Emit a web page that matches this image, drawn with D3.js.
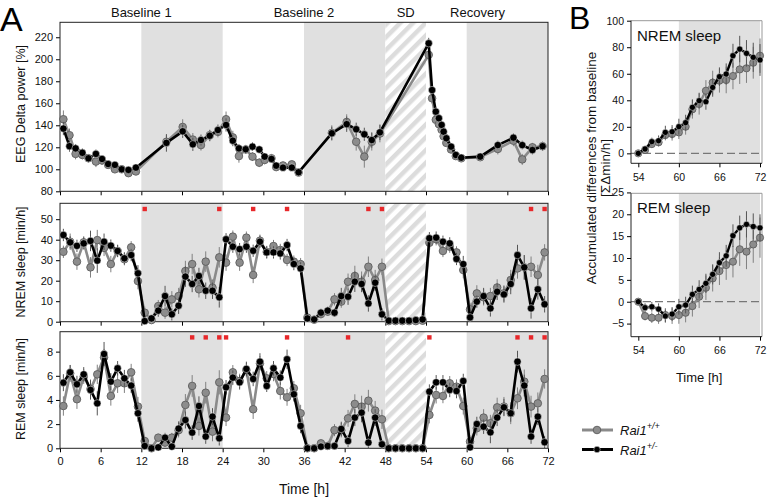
<!DOCTYPE html>
<html><head><meta charset="utf-8">
<script src="https://cdn.jsdelivr.net/npm/d3@7"></script>
<style>body{margin:0;background:#fff}svg{display:block;font-family:"Liberation Sans",Arial,sans-serif}</style>
</head><body>
<script>
// ---------- DATA ----------
const hours = d3.range(72).map(i => i + 0.5);
const xTicksA = d3.range(0, 73, 6);
const periods = ["Baseline 1", "Baseline 2", "SD", "Recovery"];
const periodCenters = [12, 36, 51, 61.6];
const darkPhases = [[12, 24], [36, 48], [60, 72]];
const sdPhase = [48, 54];

const deltaTime = [0.5,1.4,2.3,3.3,4.2,5.3,6.2,7.1,8.1,9.1,10.1,11.2, 15.7,18.1,19.6,20.8,22.1,23.3,
  24.5,25.5,26.4,27.4,28.4,29.4,30.2,31.2,31.9,32.9,34.2,35.2, 40.1,42.3,43.7,44.9,46.0,47.2,
  54.4,54.9,55.45,55.9,56.3,56.6,57.0,57.7,58.4,59.2, 62.0,64.6,66.9,68.2,69.7,71.2];
const deltaWt = [145.5,131,114,113,110,107,108,104,100,100,96.5,98, 125,138.5,127,122,131,134,
  145.5,129,112,118,111.5,106,108.5,110,102,103.5,104.5,97, 133,143,125,111.5,125,132.5,
  204,164.5,145,141,136,130,124,118,112,110, 111,118.5,126,109,120,121];
const deltaHet = [137,121,119,115,110,114,109.4,104.8,104,100,99.4,101.5, 124,134.5,122.7,126.6,130.5,135.7,
  140.3,126,119,118.2,120.6,118,111.5,109.4,103.3,101.5,101.5,97.3, 132.7,141,136.4,131.8,126.6,133.6,
  214.5,172,152.4,146.4,140.3,134.2,128.2,120.6,113,110.5, 111.5,122,128.7,122,117.5,121];
const deltaErrWt = [8,6,5,4,4,5,4,3,3,3,3,3, 6,7,6,5,5,5, 7,6,6,4,4,4,4,4,3,3,3,3, 7,7,8,10,8,8, 6,5,4,4,4,3,3,3,3,3, 3,5,5,5,4,4];
const deltaErrHet = [6,5,4,4,3,4,3,3,3,3,3,3, 8,6,6,5,5,5, 6,5,4,4,4,3,3,3,3,3,3,3, 6,7,6,6,7,7, 5,5,4,4,4,3,3,3,3,3, 3,4,4,4,4,4];

const nremWt = [34.1,39,29.3,38.7,26.5,39.8,36,28.1,34.5,30.5,36.3,19.8,
  4.4,0.8,7.6,4.4,10.9,12.5,24.7,28.1,15.8,29.3,16.6,31.4,
  28.8,41.5,28.8,41,22.8,39.5,34,36.9,35,30.1,29.3,28.1,
  2,1,3.7,4.9,10.9,9.8,19.5,22.3,19.5,26.8,20.3,26.8,
  0.3,0.3,0.3,0.3,0.3,0.5, 38.5,40.2,34.5,36.6,33.8,25.2,
  6,13.8,11.9,12.5,16.7,13.8,20.3,26,26.5,26.8,22.8,33.8];
const nremHet = [42.3,38.7,37,38.2,39.4,29.8,39,37.1,34.5,30.9,32.5,23.6,
  0.3,1.6,5.4,12.5,3.6,7.8,22,18.4,22.3,15.1,15.1,11.9,
  40.2,36.6,35.4,36.6,34.6,39,33.8,33.8,33.3,37.4,28.1,26,
  1.6,1.1,4.4,5.4,4.4,12.5,12.2,19.5,18.4,8.9,19,3.6,
  0.5,0.5,0.5,0.5,0.8,1.1, 40.7,41,39,38.2,30.6,28.1,
  2.1,9.8,12.5,6.5,14.6,13.3,18.4,32.5,26.5,6.5,15.8,8.5];
const nremErrWt = [3,4,4,3,5,5,4,4,3,3,3,4, 3,1,3,3,4,4,5,5,4,5,4,5, 4,3,4,3,4,3,3,3,3,3,3,3,
  1,1,2,2,3,3,4,5,5,5,5,4, 0.5,0.5,0.5,0.5,0.5,0.5, 3,3,3,3,3,4, 3,4,4,4,4,4,5,5,6,5,5,4];
const nremErrHet = [3,3,3,3,5,6,4,3,3,3,3,4, 1,1,3,5,3,4,5,4,4,4,4,5, 3,3,3,3,3,3,3,3,3,3,3,3,
  1,1,2,2,2,4,4,5,4,4,4,3, 0.5,0.5,0.5,0.5,0.5,0.5, 3,3,3,3,3,4, 2,3,4,4,4,4,5,5,6,5,5,4];
const nremSig = [12.5, 23.5, 28.5, 33.5, 45.5, 47.5, 69.5, 71.5];

const remWt = [3.5,6.2,4.06,5.93,4.9,6.12,7.53,4.33,5.38,5.38,6.29,3.45,
  0.6,0,0.88,0.47,0.88,1.5,3.59,5.16,1.85,4.6,1.38,5.46,
  2.54,6.29,5.57,6.48,3.23,7.03,5.79,6.15,4.74,4.22,4.97,2.9,
  0,0,0.41,0.2,1.5,1.5,2.48,3.67,3.45,3.94,3.12,2.4,
  0,0,0,0,0,0, 2.76,4.41,4.33,5.38,5.1,3.5,
  0.55,1.66,2.54,2.07,3.39,3.45,2.9,4.14,5.52,3.45,3.72,5.74];
const remHet = [5.43,6.29,5.3,6.12,4.83,3.72,7.8,5.52,6.62,5.79,5.19,2.9,
  0.19,0,0.08,0.88,0.14,1.63,2.34,1.3,3.5,0.97,2.62,0.83,
  5.05,5.85,5.46,6.57,5.74,7.17,5.16,6.62,5.85,7.37,4.47,1.85,
  0,0,0.14,0.19,0.19,1.6,0.6,2.54,2.95,0.47,2.54,0.33,
  0,0,0,0,0,0, 4.69,5.46,5.46,4.83,4.74,5.57,
  0.08,2.01,1.79,1.32,2.54,3.39,2.9,7.17,5.19,0.97,2.62,0.5];
const remErrWt = [0.8,0.7,0.8,0.6,0.8,0.8,0.7,0.8,0.8,0.8,0.7,0.8, 0.3,0.1,0.3,0.3,0.4,0.6,0.9,0.9,0.8,0.9,0.8,1,
  0.7,0.6,0.6,0.6,0.8,0.6,0.6,0.6,0.7,0.7,0.6,0.7, 0.1,0.1,0.2,0.2,0.5,0.6,0.7,0.8,0.9,0.9,0.8,0.8,
  0,0,0,0,0,0, 0.7,0.7,0.6,0.6,0.6,0.7, 0.3,0.6,0.7,0.7,0.8,0.8,0.9,0.9,1,0.9,0.9,0.8];
const remErrHet = [0.7,0.6,0.7,0.6,0.8,1,1,0.7,0.6,0.7,0.6,0.7, 0.2,0.1,0.2,0.4,0.2,0.6,0.7,0.6,0.8,0.6,0.7,0.6,
  0.6,0.6,0.6,0.6,0.6,0.7,0.5,0.6,0.6,0.8,0.6,0.6, 0.1,0.1,0.2,0.2,0.2,0.6,0.5,0.7,0.8,0.5,0.7,0.3,
  0,0,0,0,0,0, 0.6,0.6,0.6,0.6,0.6,0.6, 0.2,0.6,0.6,0.9,0.7,0.7,0.7,0.9,0.9,0.6,0.7,0.5];
const remSig = [19.5, 21.5, 23.5, 24.5, 33.5, 42.5, 54.5, 67.5, 69.5, 71.5];

const bHours = d3.range(54, 73);
const bTicks = [54, 60, 66, 72];
const bNremWt = [0,2.5,7,8.3,13.8,14.6,15.8,20.1,33.2,37.2,47.2,53.3,54.8,55.3,58.3,63.3,64.1,68.3,73.6];
const bNremHet = [0,3.3,8.8,9.5,15.8,16.3,20.1,23.1,34.7,39.7,38.9,49.7,57.8,59.8,73.6,78.6,75.4,72.4,70.4];
const bNremErrWt = [0,2,3,3,4,5,5,6,7,8,8,9,9,10,10,11,11,12,13];
const bNremErrHet = [0,2,3,4,5,5,6,6,6,6,6,7,7,8,9,10,10,11,12];
const bRemWt = [0,-3.28,-3.66,-3.66,-3.05,-3.28,-3.05,-2.52,-1,1.15,3.2,5.34,7.02,8.4,9.16,12,11.45,13.1,14.66];
const bRemHet = [0,-1.37,-1.15,-1.68,-3.28,-2.82,-1.15,-0.76,1.68,2.82,4.2,6.26,8.93,10.5,15.1,16.9,17.7,17.2,16.9];
const bRemErrWt = [0,1,1.2,1.4,1.6,1.8,2,2.2,2.4,2.6,2.8,3,3.2,3.4,3.6,3.8,4,4.2,4.6];
const bRemErrHet = [0,1,1.1,1.3,1.5,1.6,1.8,1.9,2,2.1,2.2,2.3,2.4,2.5,2.6,2.8,3,3,3.1];

// ---------- DRAW ----------
const W = 767, H = 497;
const FONT = '"Liberation Sans", Arial, sans-serif';
const GRAY_LINE = "#8a8a8a", GRAY_FILL = "#8c8c8c", SHADE = "#e0e0e0";
const svg = d3.select("body").append("svg").attr("width", W).attr("height", H);

const defs = svg.append("defs");
const pat = defs.append("pattern").attr("id", "hatch").attr("patternUnits", "userSpaceOnUse")
  .attr("width", 9).attr("height", 9).attr("patternTransform", "rotate(45)");
pat.append("rect").attr("width", 9).attr("height", 9).attr("fill", "#fff");
pat.append("rect").attr("x", 0).attr("width", 4.5).attr("height", 9).attr("fill", "#dcdcdc");

const xA = d3.scaleLinear().domain([0, 72]).range([60, 548]);

function series(g, xs, ys, errs, x, y, opt) {
  const pts = xs.map((t, i) => ({ t, v: ys[i], e: errs[i] }));
  g.append("g").selectAll("line").data(pts).join("line")
    .attr("x1", d => x(d.t)).attr("x2", d => x(d.t))
    .attr("y1", d => y(d.v - d.e)).attr("y2", d => y(d.v + d.e))
    .attr("stroke", opt.err).attr("stroke-width", 1);
  g.append("path").datum(pts)
    .attr("d", d3.line().x(d => x(d.t)).y(d => y(d.v)))
    .attr("fill", "none").attr("stroke", opt.line).attr("stroke-width", opt.lw)
    .attr("stroke-linejoin", "round");
  g.append("g").selectAll("circle").data(pts).join("circle")
    .attr("cx", d => x(d.t)).attr("cy", d => y(d.v)).attr("r", opt.r)
    .attr("fill", opt.fill).attr("stroke", opt.stroke).attr("stroke-width", opt.sw);
}
const wtStyle = { err: "#808080", line: GRAY_LINE, lw: 2.6, fill: GRAY_FILL, stroke: "#5e5e5e", sw: 0.9, r: 3.8 };
const hetStyle = { err: "#555", line: "#000", lw: 2.6, fill: "#000", stroke: "#eee", sw: 0.5, r: 3.7 };

function panelA(y, yTicks, showLabels, label, labelY, wt, het, sig) {
  const [y0, y1] = y.range(); // bottom, top
  const g = svg.append("g");
  darkPhases.forEach(p => g.append("rect").attr("x", xA(p[0])).attr("y", y1)
    .attr("width", xA(p[1]) - xA(p[0])).attr("height", y0 - y1).attr("fill", SHADE));
  g.append("rect").attr("x", xA(sdPhase[0])).attr("y", y1)
    .attr("width", xA(sdPhase[1]) - xA(sdPhase[0])).attr("height", y0 - y1).attr("fill", "url(#hatch)");
  const ax = g.append("g").attr("transform", `translate(${xA.range()[0]},0)`)
    .call(d3.axisLeft(y).tickValues(yTicks).tickSize(4).tickSizeOuter(0).tickPadding(3));
  ax.select(".domain").remove();
  ax.selectAll("text").attr("font-size", 11).attr("font-family", FONT).attr("fill", "#111");
  const bx = g.append("g").attr("transform", `translate(0,${y0})`)
    .call(d3.axisBottom(xA).tickValues(xTicksA).tickSize(4).tickSizeOuter(0).tickPadding(5)
      .tickFormat(showLabels ? d3.format("d") : ""));
  bx.select(".domain").remove();
  bx.selectAll("text").attr("font-size", 11).attr("font-family", FONT).attr("fill", "#111");
  g.append("rect").attr("x", xA.range()[0]).attr("y", y1).attr("width", xA.range()[1] - xA.range()[0])
    .attr("height", y0 - y1).attr("fill", "none").attr("stroke", "#222").attr("stroke-width", 1);
  g.append("text").attr("transform", `translate(21,${labelY}) rotate(-90)`)
    .attr("text-anchor", "middle").attr("dominant-baseline", "central")
    .attr("font-size", 12.5).attr("font-family", FONT).attr("fill", "#111").text(label);
  series(g, wt[0], wt[1], wt[2], xA, y, wtStyle);
  series(g, het[0], het[1], het[2], xA, y, hetStyle);
  if (sig) {
    g.append("g").selectAll("rect").data(sig).join("rect")
      .attr("x", d => xA(d) - 2.2).attr("y", y1 + 3.5).attr("width", 4.4).attr("height", 4.4)
      .attr("fill", "#e8282b");
  }
}

const yDelta = d3.scaleLinear().domain([80, 233.6]).range([191.3, 22.3]);
const yNrem = d3.scaleLinear().domain([0, 57.75]).range([321.7, 203.3]);
const yRem = d3.scaleLinear().domain([0, 9.65]).range([448.3, 331.7]);

panelA(yDelta, d3.range(80, 221, 20), false, "EEG Delta power [%]", 104,
  [deltaTime, deltaWt, deltaErrWt], [deltaTime, deltaHet, deltaErrHet], null);
panelA(yNrem, d3.range(0, 51, 10), false, "NREM sleep [min/h]", 262,
  [hours, nremWt, nremErrWt], [hours, nremHet, nremErrHet], nremSig);
panelA(yRem, d3.range(0, 9, 2), true, "REM sleep [min/h]", 389,
  [hours, remWt, remErrWt], [hours, remHet, remErrHet], remSig);

// period labels
svg.append("g").selectAll("text").data(periods).join("text")
  .attr("x", (d, i) => xA(periodCenters[i])).attr("y", 17).attr("text-anchor", "middle")
  .attr("font-size", 13).attr("font-family", FONT).attr("fill", "#111").text(d => d);
svg.append("text").attr("x", xA(36)).attr("y", 494).attr("text-anchor", "middle")
  .attr("font-size", 14).attr("font-family", FONT).attr("fill", "#111").text("Time [h]");
svg.append("text").attr("x", 0).attr("y", 31).attr("font-size", 34).attr("font-family", FONT).text("A");
svg.append("text").attr("x", 569).attr("y", 29).attr("font-size", 32).attr("font-family", FONT).text("B");

// ---------- Panel B ----------
const xB = d3.scaleLinear().domain([54, 72]).range([638.3, 760]);
const bLeft = 631, bRight = 762;
function panelB(y, yTicks, title, wt, het) {
  const [y0, y1] = y.range();
  const g = svg.append("g");
  g.append("rect").attr("x", xB(60)).attr("y", y1).attr("width", xB(72) - xB(60))
    .attr("height", y0 - y1).attr("fill", SHADE);
  g.append("line").attr("x1", bLeft).attr("x2", bRight).attr("y1", y(0)).attr("y2", y(0))
    .attr("stroke", "#777").attr("stroke-width", 1.2).attr("stroke-dasharray", "8,4");
  g.append("path").attr("d", `M${bLeft},${y1}H${bRight}V${y0}`).attr("fill", "none")
    .attr("stroke", "#999").attr("stroke-width", 1);
  g.append("path").attr("d", `M${bLeft},${y1}V${y0}H${bRight}`).attr("fill", "none")
    .attr("stroke", "#222").attr("stroke-width", 1);
  const ax = g.append("g").attr("transform", `translate(${bLeft},0)`)
    .call(d3.axisLeft(y).tickValues(yTicks).tickSize(4).tickSizeOuter(0).tickPadding(3));
  ax.select(".domain").remove();
  ax.selectAll("text").attr("font-size", 10.5).attr("font-family", FONT).attr("fill", "#111");
  const bx = g.append("g").attr("transform", `translate(0,${y0})`)
    .call(d3.axisBottom(xB).tickValues(bTicks).tickSize(4).tickSizeOuter(0).tickPadding(6));
  bx.select(".domain").remove();
  bx.selectAll("text").attr("font-size", 10.5).attr("font-family", FONT).attr("fill", "#111");
  g.append("text").attr("x", 637).attr("y", y1 + 20).attr("font-size", 15).attr("font-family", FONT)
    .attr("fill", "#111").text(title);
  series(g, bHours, wt[0], wt[1], xB, y, Object.assign({}, wtStyle, { r: 3.6, lw: 2.4 }));
  series(g, bHours, het[0], het[1], xB, y, Object.assign({}, hetStyle, { r: 3.1, lw: 2.4 }));
}
const yBN = d3.scaleLinear().domain([-7.5, 100]).range([163.3, 20.7]);
const yBR = d3.scaleLinear().domain([-8, 24.8]).range([336.7, 193.3]);
panelB(yBN, d3.range(0, 101, 20), "NREM sleep", [bNremWt, bNremErrWt], [bNremHet, bNremErrHet]);
panelB(yBR, d3.range(-5, 26, 5), "REM sleep", [bRemWt, bRemErrWt], [bRemHet, bRemErrHet]);

svg.append("text").attr("transform", "translate(591,168) rotate(-90)").attr("text-anchor", "middle")
  .attr("dominant-baseline", "central").attr("font-size", 13.5).attr("font-family", FONT).attr("fill", "#111")
  .text("Accumulated differences from baseline");
svg.append("text").attr("transform", "translate(605,168) rotate(-90)").attr("text-anchor", "middle")
  .attr("dominant-baseline", "central").attr("font-size", 13.5).attr("font-family", FONT).attr("fill", "#111")
  .text("[ΣΔmin/h]");
svg.append("text").attr("x", xB(63)).attr("y", 382).attr("text-anchor", "middle")
  .attr("font-size", 13).attr("font-family", FONT).attr("fill", "#111").text("Time [h]");

// legend
const legend = [
  { label: "+/+", style: wtStyle, r: 3.8, y: 430 },
  { label: "+/-", style: hetStyle, r: 3.2, y: 449.5 }
];
const lg = svg.append("g");
legend.forEach(d => {
  lg.append("line").attr("x1", 582).attr("x2", 613).attr("y1", d.y).attr("y2", d.y)
    .attr("stroke", d.style.line).attr("stroke-width", 3);
  lg.append("circle").attr("cx", 597).attr("cy", d.y).attr("r", d.r)
    .attr("fill", d.style.fill).attr("stroke", d.style.stroke).attr("stroke-width", d.style.sw);
  const t = lg.append("text").attr("x", 620).attr("y", d.y + 5).attr("font-size", 13)
    .attr("font-family", FONT).attr("font-style", "italic").attr("fill", "#111");
  t.append("tspan").text("Rai1");
  t.append("tspan").attr("dy", -6).attr("font-size", 9).text(d.label);
});
</script>
</body></html>
